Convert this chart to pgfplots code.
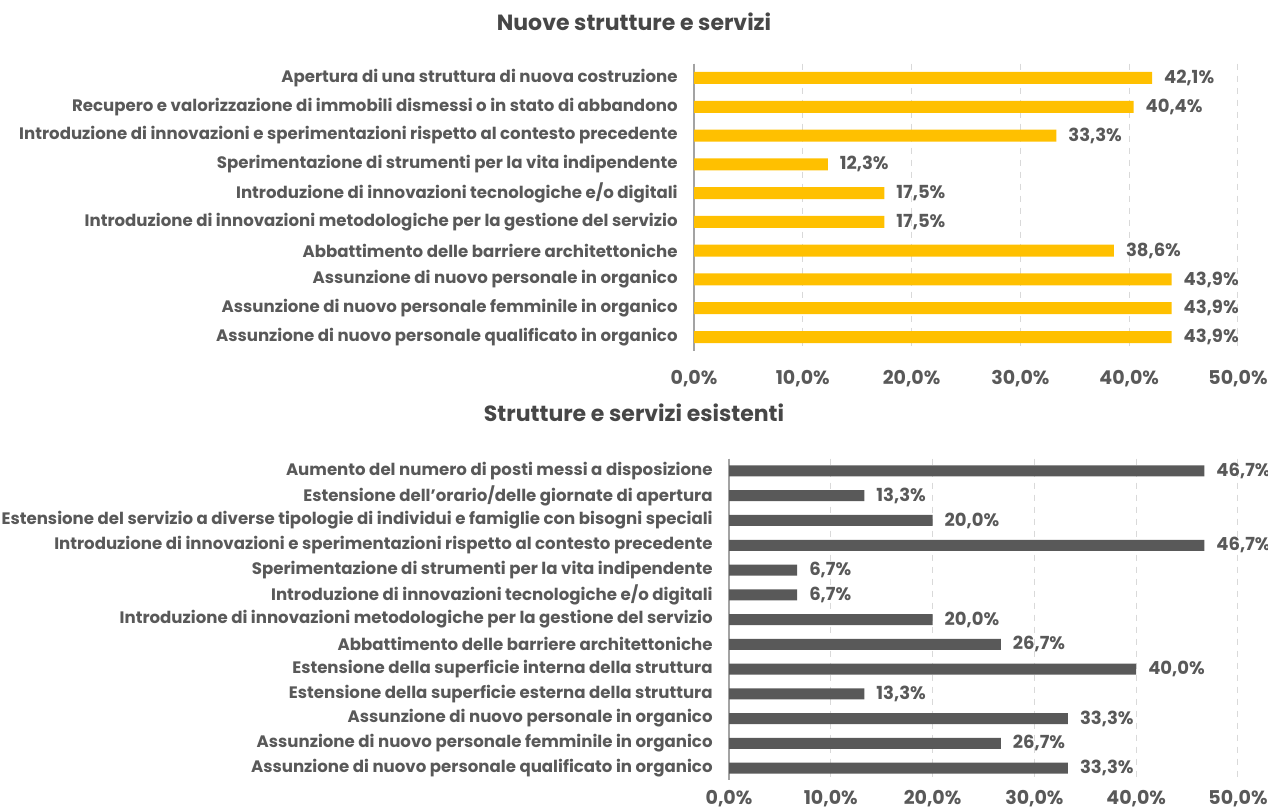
\documentclass[border=0pt]{standalone}
\usepackage{pgfplots}
\pgfplotsset{compat=1.18}
\usepackage{fontspec}
\setmainfont{Poppins}
\definecolor{gold}{HTML}{FFC000}
\definecolor{dgray}{HTML}{595959}
\definecolor{txt}{HTML}{595959}
\definecolor{grid}{HTML}{D9D9D9}
\begin{document}
\begin{tikzpicture}
\useasboundingbox (0pt,0pt) rectangle (634pt,405.5pt);
\pgfplotsset{
  every axis/.append style={
    scale only axis,
    xbar, bar shift=0pt,
    xmin=0, xmax=50,
    xtick={0,10,20,30,40,50},
    axis x line*=bottom,
    axis y line*=left,
    x axis line style={draw=none},
    y axis line style={draw=grid!75!black, line width=0.6pt},
    y dir=reverse,
    ytick=data,
    major tick length=0pt,
    xmajorgrids=true,
    grid style={dashed, draw=grid, line width=0.5pt},
    /pgf/number format/assume math mode=true,
    yticklabel style={font=\fontsize{8.3}{9}\selectfont\bfseries, text=txt, inner sep=0pt, xshift=-8pt},
    xticklabel={\pgfmathprintnumber[fixed,fixed zerofill,precision=1,use comma]{\tick}\%},
    xticklabel style={font=\fontsize{9.5}{10}\selectfont\bfseries, text=txt},
    nodes near coords={\pgfmathprintnumber[fixed,fixed zerofill,precision=1,use comma]{\pgfplotspointmeta}\%},
    every node near coord/.append style={font=\fontsize{9}{10}\selectfont\bfseries, text=txt, xshift=2.5pt},
    clip=false,
  }
}
% titles
\node[font=\fontsize{11}{12}\selectfont\bfseries, text=txt!80!black] at (317pt,394.5pt) {Nuove strutture e servizi};
\node[font=\fontsize{11}{12}\selectfont\bfseries, text=txt!80!black] at (317pt,199pt) {Strutture e servizi esistenti};

\begin{axis}[
  at={(347pt,229.8pt)}, anchor=south west,
  width=272pt, height=143.9pt,
  ymin=-0.5, ymax=9.5,
  bar width=6pt,
  xticklabel style={yshift=-6pt},
  yticklabels={
    Apertura di una struttura di nuova costruzione,
    Recupero e valorizzazione di immobili dismessi o in stato di abbandono,
    Introduzione di innovazioni e sperimentazioni rispetto al contesto precedente,
    Sperimentazione di strumenti per la vita indipendente,
    Introduzione di innovazioni tecnologiche e/o digitali,
    Introduzione di innovazioni metodologiche per la gestione del servizio,
    Abbattimento delle barriere architettoniche,
    Assunzione di nuovo personale in organico,
    Assunzione di nuovo personale femminile in organico,
    Assunzione di nuovo personale qualificato in organico},
]
\addplot[fill=gold, draw=none] coordinates {
  (42.1,0) (40.4,1) (33.3,2) (12.3,3) (17.5,4) (17.5,5) (38.6,6) (43.9,7) (43.9,8) (43.9,9)};
\end{axis}

\begin{axis}[
  at={(364.5pt,15.3pt)}, anchor=south west,
  width=254.5pt, height=160.9pt,
  ymin=-0.5, ymax=12.5,
  bar width=5.5pt,
  xticklabel style={yshift=-1.5pt},
  yticklabels={
    Aumento del numero di posti messi a disposizione,
    Estensione dell'orario/delle giornate di apertura,
    Estensione del servizio a diverse tipologie di individui e famiglie con bisogni speciali,
    Introduzione di innovazioni e sperimentazioni rispetto al contesto precedente,
    Sperimentazione di strumenti per la vita indipendente,
    Introduzione di innovazioni tecnologiche e/o digitali,
    Introduzione di innovazioni metodologiche per la gestione del servizio,
    Abbattimento delle barriere architettoniche,
    Estensione della superficie interna della struttura,
    Estensione della superficie esterna della struttura,
    Assunzione di nuovo personale in organico,
    Assunzione di nuovo personale femminile in organico,
    Assunzione di nuovo personale qualificato in organico},
]
\addplot[fill=dgray, draw=none] coordinates {
  (46.7,0) (13.3,1) (20.0,2) (46.7,3) (6.7,4) (6.7,5) (20.0,6) (26.7,7) (40.0,8) (13.3,9) (33.3,10) (26.7,11) (33.3,12)};
\end{axis}
\end{tikzpicture}
\end{document}
